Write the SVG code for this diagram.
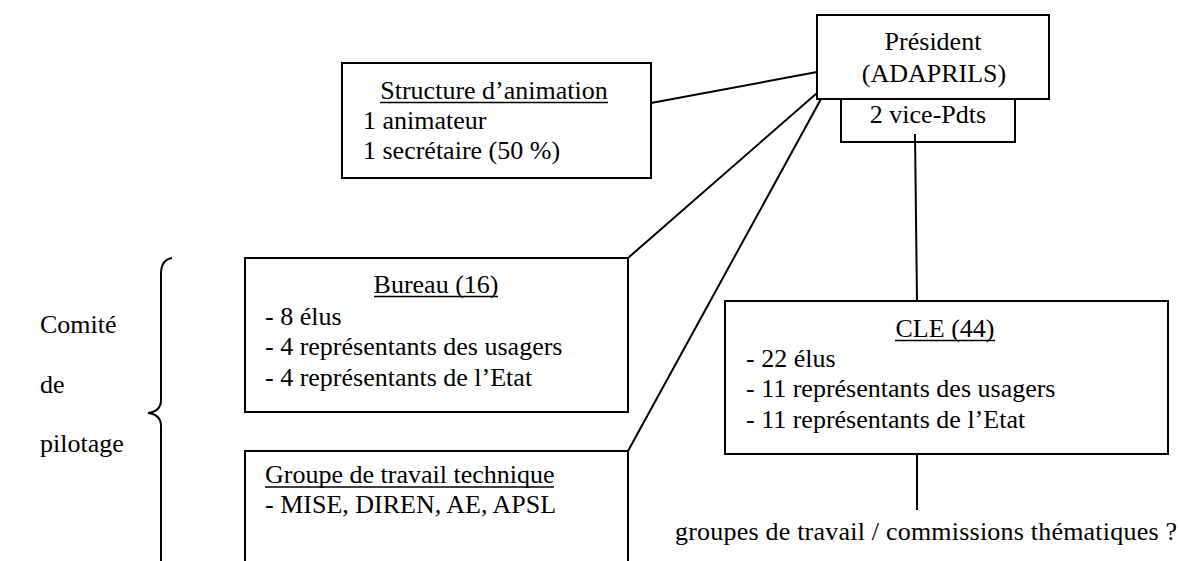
<svg xmlns="http://www.w3.org/2000/svg" width="1180" height="561" viewBox="0 0 1180 561">
<style>
.t{font-family:'Liberation Serif','DejaVu Serif','Noto Serif',serif;font-size:26px;fill:#000}
.m{text-anchor:middle}
.box{fill:#fff;stroke:#000;stroke-width:2}
.ul{stroke:#000;stroke-width:1.6}
.con{stroke:#000;stroke-width:2;fill:none}
</style>
<rect width="1180" height="561" fill="#fff"/>
<g id="connectors">
<line class="con" x1="651" y1="103" x2="817" y2="72"/>
<line class="con" x1="817" y1="93" x2="628" y2="258"/>
<line class="con" x1="821" y1="99" x2="628" y2="451"/>
<line class="con" x1="915" y1="134" x2="917" y2="301"/>
<line class="con" x1="917" y1="454" x2="917" y2="510"/>
</g>
<g id="president">
<rect class="box" x="817" y="15" width="232" height="84"/>
<text class="t m" x="933" y="50">Président</text>
<text class="t m" x="934" y="82">(ADAPRILS)</text>
</g>
<g id="vice-presidents">
<rect class="box" x="841" y="99" width="174" height="43"/>
<text class="t m" x="928" y="123">2 vice-Pdts</text>
<line class="con" x1="915" y1="134" x2="915" y2="142"/>
</g>
<g id="structure">
<rect class="box" x="342" y="63" width="309" height="115"/>
<text class="t m" x="494" y="99">Structure d’animation</text>
<line class="ul" x1="380" y1="102.5" x2="608" y2="102.5"/>
<text class="t" x="363" y="129">1 animateur</text>
<text class="t" x="363" y="159">1 secrétaire (50 %)</text>
</g>
<g id="bureau">
<rect class="box" x="245" y="258" width="383" height="154"/>
<text class="t m" x="436" y="293">Bureau (16)</text>
<line class="ul" x1="374" y1="296.5" x2="498" y2="296.5"/>
<text class="t" x="265" y="325">- 8 élus</text>
<text class="t" x="265" y="355">- 4 représentants des usagers</text>
<text class="t" x="265" y="386">- 4 représentants de l’Etat</text>
</g>
<g id="groupe-technique">
<path class="box" d="M245,575 L245,451 L628,451 L628,575"/>
<text class="t" x="265" y="483">Groupe de travail technique</text>
<line class="ul" x1="265" y1="487" x2="554" y2="487"/>
<text class="t" x="265" y="513">- MISE, DIREN, AE, APSL</text>
</g>
<g id="cle">
<rect class="box" x="725" y="301" width="443" height="153"/>
<text class="t m" x="945" y="337">CLE (44)</text>
<line class="ul" x1="895" y1="340.5" x2="995" y2="340.5"/>
<text class="t" x="746" y="367">- 22 élus</text>
<text class="t" x="746" y="397">- 11 représentants des usagers</text>
<text class="t" x="746" y="428">- 11 représentants de l’Etat</text>
</g>
<g id="groupes-thematiques">
<text class="t" x="675" y="540" textLength="502" lengthAdjust="spacing">groupes de travail / commissions thématiques ?</text>
</g>
<g id="comite-pilotage">
<path class="con" d="M172,258 C165,259 161,264 161,274 L161,400 C161,408 156,412 148,413 C156,414 161,418 161,426 L161,575"/>
<text class="t" x="40" y="333">Comité</text>
<text class="t" x="40" y="393">de</text>
<text class="t" x="40" y="452">pilotage</text>
</g>
</svg>
